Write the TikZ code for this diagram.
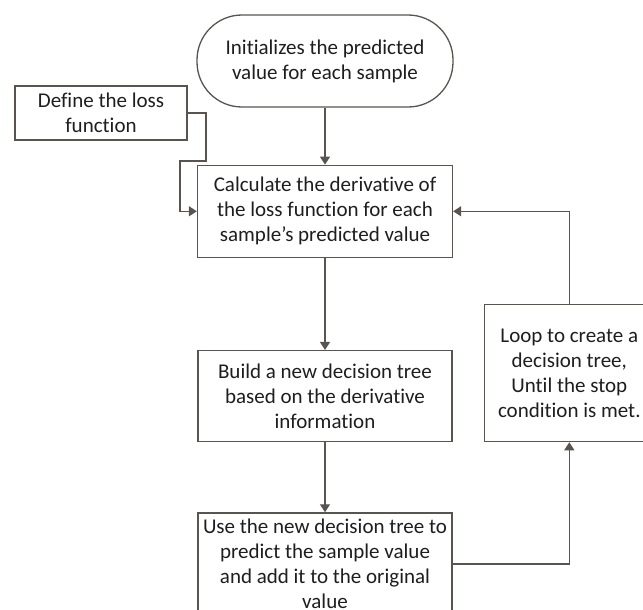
\documentclass[tikz,border=0pt]{standalone}
\usepackage{fontspec}
\setmainfont{Carlito}[Ligatures={NoCommon,NoContextual}]
\usetikzlibrary{positioning,arrows.meta}
\definecolor{linegray}{HTML}{5A5451}
\definecolor{textgray}{HTML}{1E1E1E}
\tikzstyle{process}=[rectangle, draw=linegray, line width=1.3pt, text=textgray, align=center, inner sep=0pt, font=\fontsize{21}{25}\selectfont]
\tikzstyle{terminal}=[process, rounded corners=45pt]
\tikzstyle{flow}=[draw=linegray, line width=1.3pt]
\tikzset{>={Triangle[length=8pt,width=10pt]}}

\begin{document}
\begin{tikzpicture}[x=1pt, y=-1pt]
    \useasboundingbox (0,0) rectangle (643,610);
    \clip (0,0) rectangle (643,610);

        \node(start)[terminal, minimum width=256pt, minimum height=92pt] at (325,61) {Initializes the predicted\\value for each sample};
        \node(calc)[process, minimum width=255pt, minimum height=92pt, below=57pt of start] {Calculate the derivative of\\the loss function for each\\sample{\char"0027}s predicted value};
        \node(build)[process, minimum width=254pt, minimum height=91pt, below=92pt of calc] {Build a new decision tree\\based on the derivative\\information};
        \node(use)[process, minimum width=254pt, minimum height=102pt, below=70pt of build] {Use the new decision tree to\\predict the sample value\\and add it to the original\\value};

        \node(loss)[process, minimum width=172pt, minimum height=54pt] at (101,113) {Define the loss\\function};
        \node(loop)[process, minimum width=170pt, minimum height=137pt, anchor=south west] at ([xshift=31pt]build.south east) {Loop to create a\\decision tree,\\Until the stop\\condition is met.};

        \coordinate (lossBend) at (206,161);

        \draw [flow, ->] (start) -- (calc);
        \draw [flow, ->] (calc) -- (build);
        \draw [flow, ->] (build) -- (use);
        \draw [flow, ->] (loss.east) -| (lossBend) -| ([xshift=-17pt]calc.west) -- (calc.west);
        \draw [flow, ->] (use.east) -| (loop.south);
        \draw [flow, ->] (loop.north) |- (calc.east);

    \end{tikzpicture}
\end{document}
